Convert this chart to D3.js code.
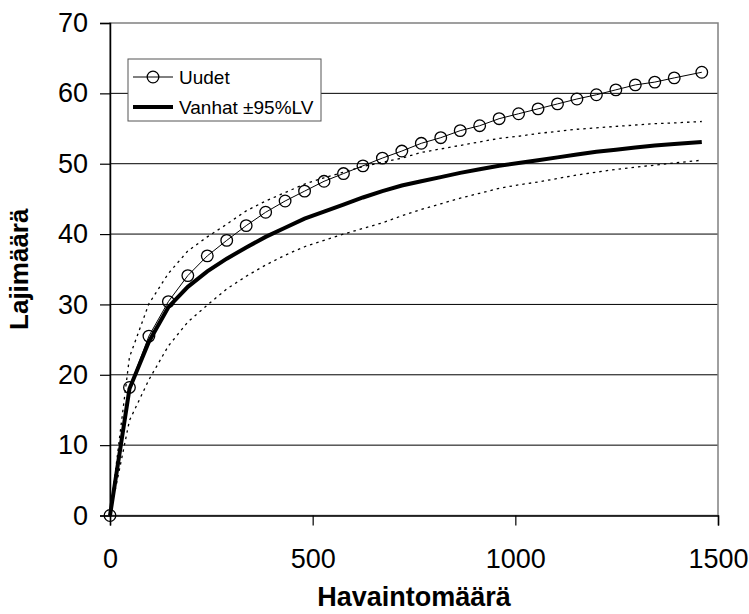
<!DOCTYPE html>
<html>
<head>
<meta charset="utf-8">
<script src="https://cdn.jsdelivr.net/npm/d3@7"></script>
<style>
  body { margin: 0; background: #fff; }
  text { font-family: Arial, "Liberation Sans", sans-serif; fill: #000; }
</style>
</head>
<body>
<svg id="chart" width="749" height="614"></svg>
<script>
// observation counts (x) shared by every series
const havainnot = [0, 48, 96, 144, 192, 240, 288, 336, 384, 432, 480, 528, 576, 624, 672,
  720, 768, 816, 864, 912, 960, 1008, 1056, 1104, 1152, 1200, 1248, 1296, 1344, 1392, 1460];

// species counts
const uudet = [0, 18.2, 25.5, 30.4, 34.1, 36.9, 39.1, 41.2, 43.1, 44.7, 46.1, 47.5, 48.6, 49.7, 50.8,
  51.8, 52.9, 53.7, 54.7, 55.4, 56.4, 57.1, 57.8, 58.5, 59.2, 59.8, 60.5, 61.2, 61.6, 62.2, 63.0];
const vanhat = [0, 18.0, 24.7, 29.6, 32.5, 34.7, 36.5, 38.1, 39.6, 40.9, 42.2, 43.2, 44.2, 45.2, 46.1,
  46.9, 47.5, 48.1, 48.7, 49.2, 49.7, 50.1, 50.5, 50.9, 51.3, 51.7, 52.0, 52.3, 52.6, 52.8, 53.1];
const vanhatYla = [0, 22.5, 30.1, 34.4, 37.6, 39.6, 41.4, 43.3, 44.7, 45.9, 47.1, 48.0, 48.8, 49.6, 50.2,
  50.8, 51.6, 52.1, 52.6, 53.1, 53.6, 53.9, 54.3, 54.6, 54.9, 55.1, 55.3, 55.5, 55.7, 55.8, 56.0];
const vanhatAla = [0, 13.5, 19.3, 24.1, 27.5, 29.9, 32.2, 34.0, 35.6, 37.0, 38.2, 39.1, 40.0, 40.8, 41.6,
  42.6, 43.5, 44.3, 45.1, 45.8, 46.5, 47.0, 47.4, 47.9, 48.4, 48.8, 49.2, 49.5, 49.8, 50.1, 50.5];

const xTicks = [0, 500, 1000, 1500];
const yTicks = [0, 10, 20, 30, 40, 50, 60, 70];
const legendItems = ['Uudet', 'Vanhat ±95%LV'];

const svg = d3.select('#chart');
const plotLeft = 110, plotRight = 718, plotTop = 23, plotBottom = 515.5;

const x = d3.scaleLinear().domain([0, 1500]).range([plotLeft, plotRight]);
const y = d3.scaleLinear().domain([0, 70]).range([plotBottom, plotTop]);

// gridlines
svg.append('g')
  .selectAll('line')
  .data(yTicks.filter(v => v > 0 && v < 70))
  .join('line')
  .attr('x1', plotLeft).attr('x2', plotRight)
  .attr('y1', d => y(d)).attr('y2', d => y(d))
  .attr('stroke', '#000').attr('stroke-width', 1);

// plot area border (gray)
svg.append('rect')
  .attr('x', plotLeft).attr('y', plotTop)
  .attr('width', plotRight - plotLeft).attr('height', plotBottom - plotTop)
  .attr('fill', 'none').attr('stroke', '#808080').attr('stroke-width', 1.5);

const pts = arr => havainnot.map((h, i) => [h, arr[i]]);
const line = d3.line().x(d => x(d[0])).y(d => y(d[1]));

// confidence limits
[vanhatYla, vanhatAla].forEach(s => {
  svg.append('path')
    .attr('d', line(pts(s)))
    .attr('fill', 'none').attr('stroke', '#000')
    .attr('stroke-width', 1.3).attr('stroke-dasharray', '2.5,4');
});

// old data
svg.append('path')
  .attr('d', line(pts(vanhat)))
  .attr('fill', 'none').attr('stroke', '#000').attr('stroke-width', 4);

// new data
svg.append('path')
  .attr('d', line(pts(uudet)))
  .attr('fill', 'none').attr('stroke', '#000').attr('stroke-width', 1);
svg.append('g')
  .selectAll('circle')
  .data(pts(uudet))
  .join('circle')
  .attr('cx', d => x(d[0])).attr('cy', d => y(d[1]))
  .attr('r', 5.8)
  .attr('fill', 'none').attr('stroke', '#000').attr('stroke-width', 1.3);

// axes
const xAxis = svg.append('g')
  .attr('transform', `translate(0,${plotBottom})`)
  .call(d3.axisBottom(x).tickValues(xTicks).tickFormat(d3.format('d'))
    .tickSize(10).tickPadding(23));
const yAxis = svg.append('g')
  .attr('transform', `translate(${plotLeft},0)`)
  .call(d3.axisLeft(y).tickValues(yTicks).tickSize(10).tickPadding(12));
[xAxis, yAxis].forEach(a => {
  a.select('.domain').attr('stroke', '#000').attr('stroke-width', 1.5);
  a.selectAll('.tick line').attr('stroke', '#000').attr('stroke-width', 1.2);
  a.selectAll('.tick text').style('font-size', '27px')
    .style('font-family', 'Arial, "Liberation Sans", sans-serif');
});

// axis titles
svg.append('text')
  .attr('x', (plotLeft + plotRight) / 2).attr('y', 606)
  .attr('text-anchor', 'middle')
  .style('font-size', '27px').style('font-weight', 'bold')
  .text('Havaintomäärä');
svg.append('text')
  .attr('transform', `translate(28,${(plotTop + plotBottom) / 2}) rotate(-90)`)
  .attr('text-anchor', 'middle')
  .style('font-size', '26px').style('font-weight', 'bold')
  .text('Lajimäärä');

// legend
const lg = svg.append('g');
lg.append('rect')
  .attr('x', 128).attr('y', 59).attr('width', 193).attr('height', 62)
  .attr('fill', '#fff').attr('stroke', '#555').attr('stroke-width', 1);
legendItems.forEach((name, i) => {
  const cy = 77 + i * 30;
  lg.append('line')
    .attr('x1', 133).attr('x2', 173).attr('y1', cy).attr('y2', cy)
    .attr('stroke', '#000').attr('stroke-width', i === 0 ? 1 : 4);
  if (i === 0) {
    lg.append('circle').attr('cx', 153).attr('cy', cy).attr('r', 5.8)
      .attr('fill', 'none').attr('stroke', '#000').attr('stroke-width', 1.3);
  }
  lg.append('text')
    .attr('x', 179).attr('y', cy).attr('dy', '0.35em')
    .style('font-size', '19px')
    .text(name);
});
</script>
</body>
</html>
